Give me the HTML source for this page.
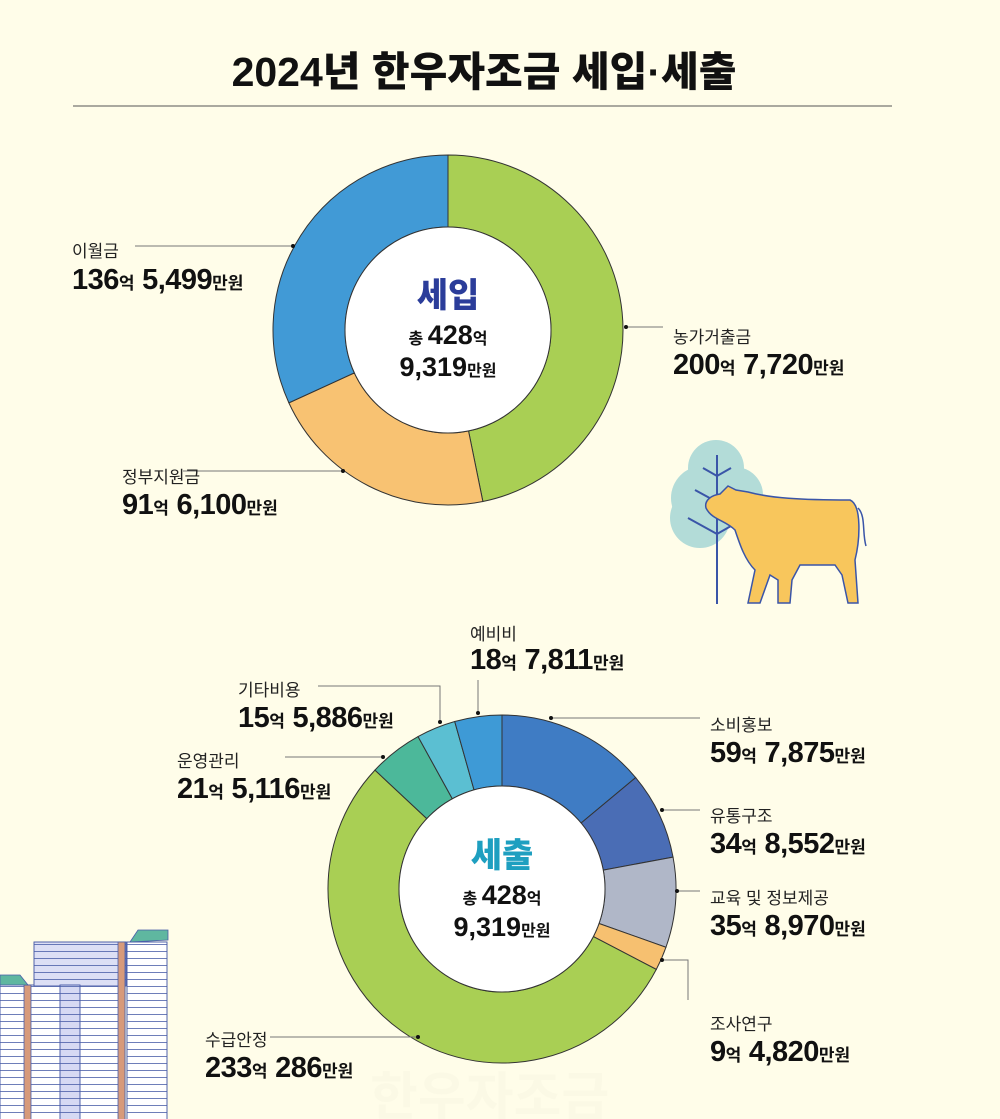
<!DOCTYPE html>
<html><head><meta charset="utf-8">
<style>
body{margin:0;background:#fffde9;}
#w{position:relative;width:1000px;height:1119px;overflow:hidden;background:#fffde9;font-family:"Liberation Sans","Noto Sans CJK KR",sans-serif;color:#111;}
.t{position:absolute;white-space:nowrap}
.s{font-size:17px;color:#222}
.b{font-size:29px;font-weight:bold;letter-spacing:-0.5px}
.b small{font-size:17px;letter-spacing:0}
</style></head><body>
<div id="w">
<svg id="sv" width="1000" height="1119" style="position:absolute;left:0;top:0">
<defs><pattern id="ln" width="10" height="7" patternUnits="userSpaceOnUse"><line x1="0" y1="6.5" x2="10" y2="6.5" stroke="#4a5da8" stroke-width="0.8"/></pattern></defs>
<line x1="73" y1="106" x2="892" y2="106" stroke="#555" stroke-width="1"/>
<g>
<circle cx="716" cy="468" r="28" fill="#b3dcd8"/><circle cx="703" cy="498" r="32" fill="#b3dcd8"/><circle cx="700" cy="518" r="30" fill="#b3dcd8"/><circle cx="735" cy="495" r="28" fill="#b3dcd8"/>
<g stroke="#3a55a8" stroke-width="2" fill="none"><line x1="717" y1="455" x2="717" y2="604"/><path d="M703 468l14 8 14-8M695 490l22 12M688 518l29 16 14-8"/></g>
<path d="M706 508C704 500 712 495 720 494L728 486L736 490L748 492C770 498 800 500 850 500C862 505 860 540 855 560L858 603L848 603L842 575L835 565L800 565L792 580L790 603L778 603L778 580L770 575L760 603L748 603L755 570C745 560 740 545 735 530C725 520 712 520 706 508Z" fill="#f8c65c" stroke="#3a55a8" stroke-width="1.5"/>
<path d="M858 508c8 8 4 25 8 38" stroke="#3a55a8" stroke-width="1.5" fill="none"/>
</g>
<g stroke="#4a5da8" stroke-width="0.8">
<rect x="0" y="985" width="125" height="140" fill="#fff"/>
<rect x="0" y="985" width="125" height="140" fill="url(#ln)"/>
<rect x="34" y="942" width="92" height="44" fill="#dcdff5"/>
<rect x="34" y="942" width="92" height="44" fill="url(#ln)"/>
<rect x="60" y="985" width="20" height="140" fill="#d6d9f3"/>
<rect x="60" y="985" width="20" height="140" fill="url(#ln)"/>
<rect x="127" y="942" width="40" height="180" fill="#fff"/>
<rect x="127" y="942" width="40" height="180" fill="url(#ln)"/>
<rect x="118" y="942" width="7" height="180" fill="#d79a7a"/>
<rect x="24" y="985" width="7" height="140" fill="#d79a7a"/>
<path d="M130 942l8-12h30v10z M0 985v-10h20l8 10z" fill="#5fb7a0"/>
</g>
<g id="hl"></g>
</svg>
<div class="t" style="left:0;width:968px;top:38px;text-align:center;font-size:41px;font-weight:900;">2024년 한우자조금 세입·세출</div>

<div class="t" style="left:448px;top:268px;transform:translateX(-50%);font-size:34px;font-weight:900;color:#2b3d9a">세입</div>
<div class="t" style="left:448px;top:320px;transform:translateX(-50%);font-size:27px;font-weight:bold"><small style="font-size:16px">총 </small>428<small style="font-size:16px">억</small></div>
<div class="t" style="left:448px;top:352px;transform:translateX(-50%);font-size:27px;font-weight:bold">9,319<small style="font-size:16px">만원</small></div>

<div class="t s" style="left:72px;top:237px">이월금</div>
<div class="t b" style="left:72px;top:264px">136<small>억</small> 5,499<small>만원</small></div>
<div class="t s" style="left:673px;top:323px">농가거출금</div>
<div class="t b" style="left:673px;top:349px">200<small>억</small> 7,720<small>만원</small></div>
<div class="t s" style="left:122px;top:463px">정부지원금</div>
<div class="t b" style="left:122px;top:489px">91<small>억</small> 6,100<small>만원</small></div>

<div class="t" style="left:502px;top:828px;transform:translateX(-50%);font-size:34px;font-weight:900;color:#1e9fc0">세출</div>
<div class="t" style="left:502px;top:880px;transform:translateX(-50%);font-size:27px;font-weight:bold"><small style="font-size:16px">총 </small>428<small style="font-size:16px">억</small></div>
<div class="t" style="left:502px;top:912px;transform:translateX(-50%);font-size:27px;font-weight:bold">9,319<small style="font-size:16px">만원</small></div>

<div class="t s" style="left:470px;top:620px">예비비</div>
<div class="t b" style="left:470px;top:644px">18<small>억</small> 7,811<small>만원</small></div>
<div class="t s" style="left:238px;top:676px">기타비용</div>
<div class="t b" style="left:238px;top:702px">15<small>억</small> 5,886<small>만원</small></div>
<div class="t s" style="left:177px;top:747px">운영관리</div>
<div class="t b" style="left:177px;top:773px">21<small>억</small> 5,116<small>만원</small></div>
<div class="t s" style="left:710px;top:711px">소비홍보</div>
<div class="t b" style="left:710px;top:737px">59<small>억</small> 7,875<small>만원</small></div>
<div class="t s" style="left:710px;top:802px">유통구조</div>
<div class="t b" style="left:710px;top:828px">34<small>억</small> 8,552<small>만원</small></div>
<div class="t s" style="left:710px;top:884px">교육 및 정보제공</div>
<div class="t b" style="left:710px;top:910px">35<small>억</small> 8,970<small>만원</small></div>
<div class="t s" style="left:710px;top:1010px">조사연구</div>
<div class="t b" style="left:710px;top:1036px">9<small>억</small> 4,820<small>만원</small></div>
<div class="t s" style="left:205px;top:1026px">수급안정</div>
<div class="t b" style="left:205px;top:1052px">233<small>억</small> 286<small>만원</small></div>
<div class="t" style="left:370px;top:1055px;font-size:52px;font-weight:bold;color:rgba(200,200,190,0.08)">한우자조금</div>
</div>
<script>
const NS="http://www.w3.org/2000/svg",sv=document.getElementById('sv'),hl=document.getElementById('hl');
function el(t,a){const e=document.createElementNS(NS,t);for(const k in a)e.setAttribute(k,a[k]);return e;}
function donut(cx,cy,R,r,data){let a=0;const tot=data.reduce((s,d)=>s+d[0],0);
 const g=el('g',{});
 for(const [v,c] of data){const a2=a+v/tot*2*Math.PI;
  const p=(rr,t)=>[cx+rr*Math.sin(t),cy-rr*Math.cos(t)];const L=(a2-a)>Math.PI?1:0;
  const [x1,y1]=p(R,a),[x2,y2]=p(R,a2),[x3,y3]=p(r,a2),[x4,y4]=p(r,a);
  g.appendChild(el('path',{d:`M${x1} ${y1}A${R} ${R} 0 ${L} 1 ${x2} ${y2}L${x3} ${y3}A${r} ${r} 0 ${L} 0 ${x4} ${y4}Z`,fill:c,stroke:'#333','stroke-width':1}));a=a2;}
 g.appendChild(el('circle',{cx,cy,r,fill:'#fff',stroke:'#333','stroke-width':1}));
 sv.insertBefore(g,hl);}
donut(448,330,175,103,[[200.772,'#a9cf54'],[91.61,'#f8c272'],[136.5499,'#419ad6']]);
donut(502,889,174,103,[[59.7875,'#3f7cc4'],[34.8552,'#4a6db5'],[35.897,'#b0b7c8'],[9.482,'#f6c070'],[233.0286,'#a9cf54'],[21.5116,'#4cb89a'],[15.5886,'#5bbfd2'],[18.7811,'#3e9ad6']]);
const lines=[[[135,246],[293,246]],[[626,327],[663,327]],[[183,471],[343,471]],
[[551,718],[700,718]],[[662,810],[700,810]],[[677,891],[700,891]],[[662,960],[688,960],[688,1000]],
[[418,1037],[270,1037]],[[383,757],[285,757]],[[440,722],[440,686],[318,686]],[[478,713],[478,680]]];
for(const L of lines){hl.appendChild(el('polyline',{points:L.map(p=>p.join(',')).join(' '),fill:'none',stroke:'#777','stroke-width':1}));
 hl.appendChild(el('circle',{cx:L[0][0]===135?L[1][0]:(L[0][0]===183?L[1][0]:L[0][0]),cy:L[0][1],r:2,fill:'#111'}));}
</script>
</body></html>
